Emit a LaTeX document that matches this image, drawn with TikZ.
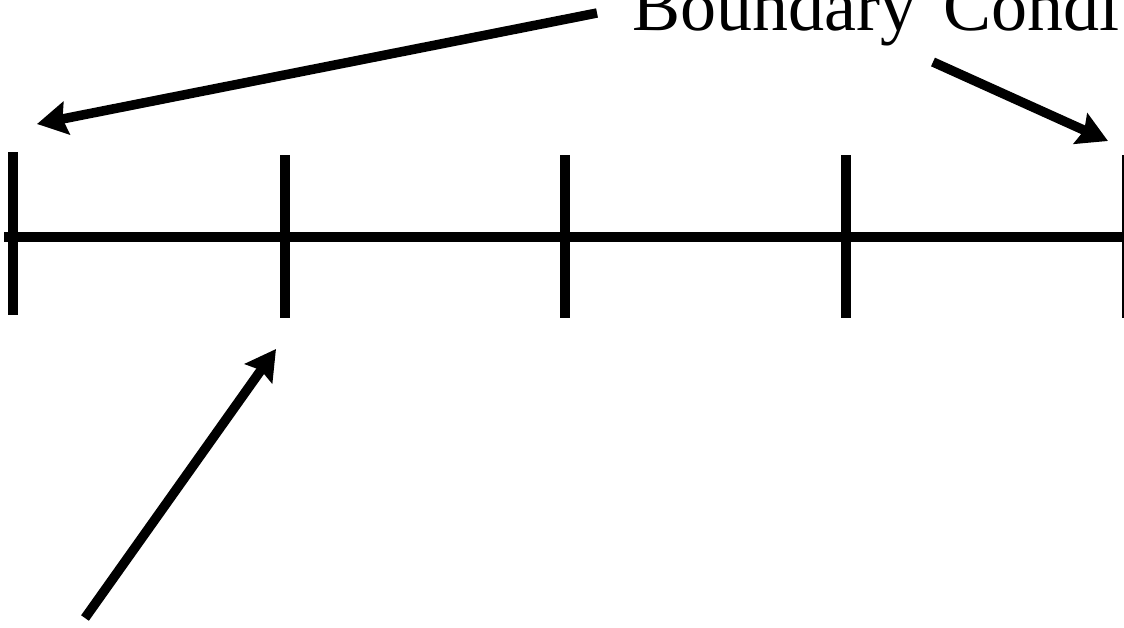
\documentclass[tikz,border=0pt]{standalone}
\usepackage{fontspec}
\setmainfont{Liberation Serif}
\usetikzlibrary{arrows.meta}
\newcommand{\widespace}{\spaceskip=27pt\relax}
\begin{document}
\begin{tikzpicture}[x=1pt,y=-1pt,
  axisline/.style={line width=9.5pt},
  tickline/.style={line width=10pt},
  pointer/.style={line width=9.5pt,-{Stealth[length=30pt,width=33pt,inset=4pt]}},
  label/.style={inner sep=0pt,anchor=base west,font=\fontsize{72}{86}\selectfont}]
\useasboundingbox (0,0) rectangle (1124,627);
\begin{scope}
\clip (0,0) rectangle (1124,627);
% axis
\coordinate (L) at (4,237);
\coordinate (R) at (1140,237);
\draw[axisline] (L) -- (R);
% ticks
\foreach \n/\x/\t/\b in {t0/13/152/315, t1/285/155/318, t2/565/155/318, t3/846/155/318, t4/1127/155/318}{
  \coordinate (\n top) at (\x,\t);
  \coordinate (\n bot) at (\x,\b);
  \draw[tickline] (\n top) -- (\n bot);
}
% label
\node[label] (bc) at (632,30) {\widespace Boundary Conditions};
% arrows
\coordinate (a1s) at (597,13);
\coordinate (a1e) at (37,124);
\coordinate (a2s) at (933,62);
\coordinate (a2e) at (1108,141);
\coordinate (a3s) at (85,618);
\coordinate (a3e) at (276,349);
\draw[pointer] (a1s) -- (a1e);
\draw[pointer] (a2s) -- (a2e);
\draw[pointer] (a3s) -- (a3e);
\end{scope}
\end{tikzpicture}
\end{document}
